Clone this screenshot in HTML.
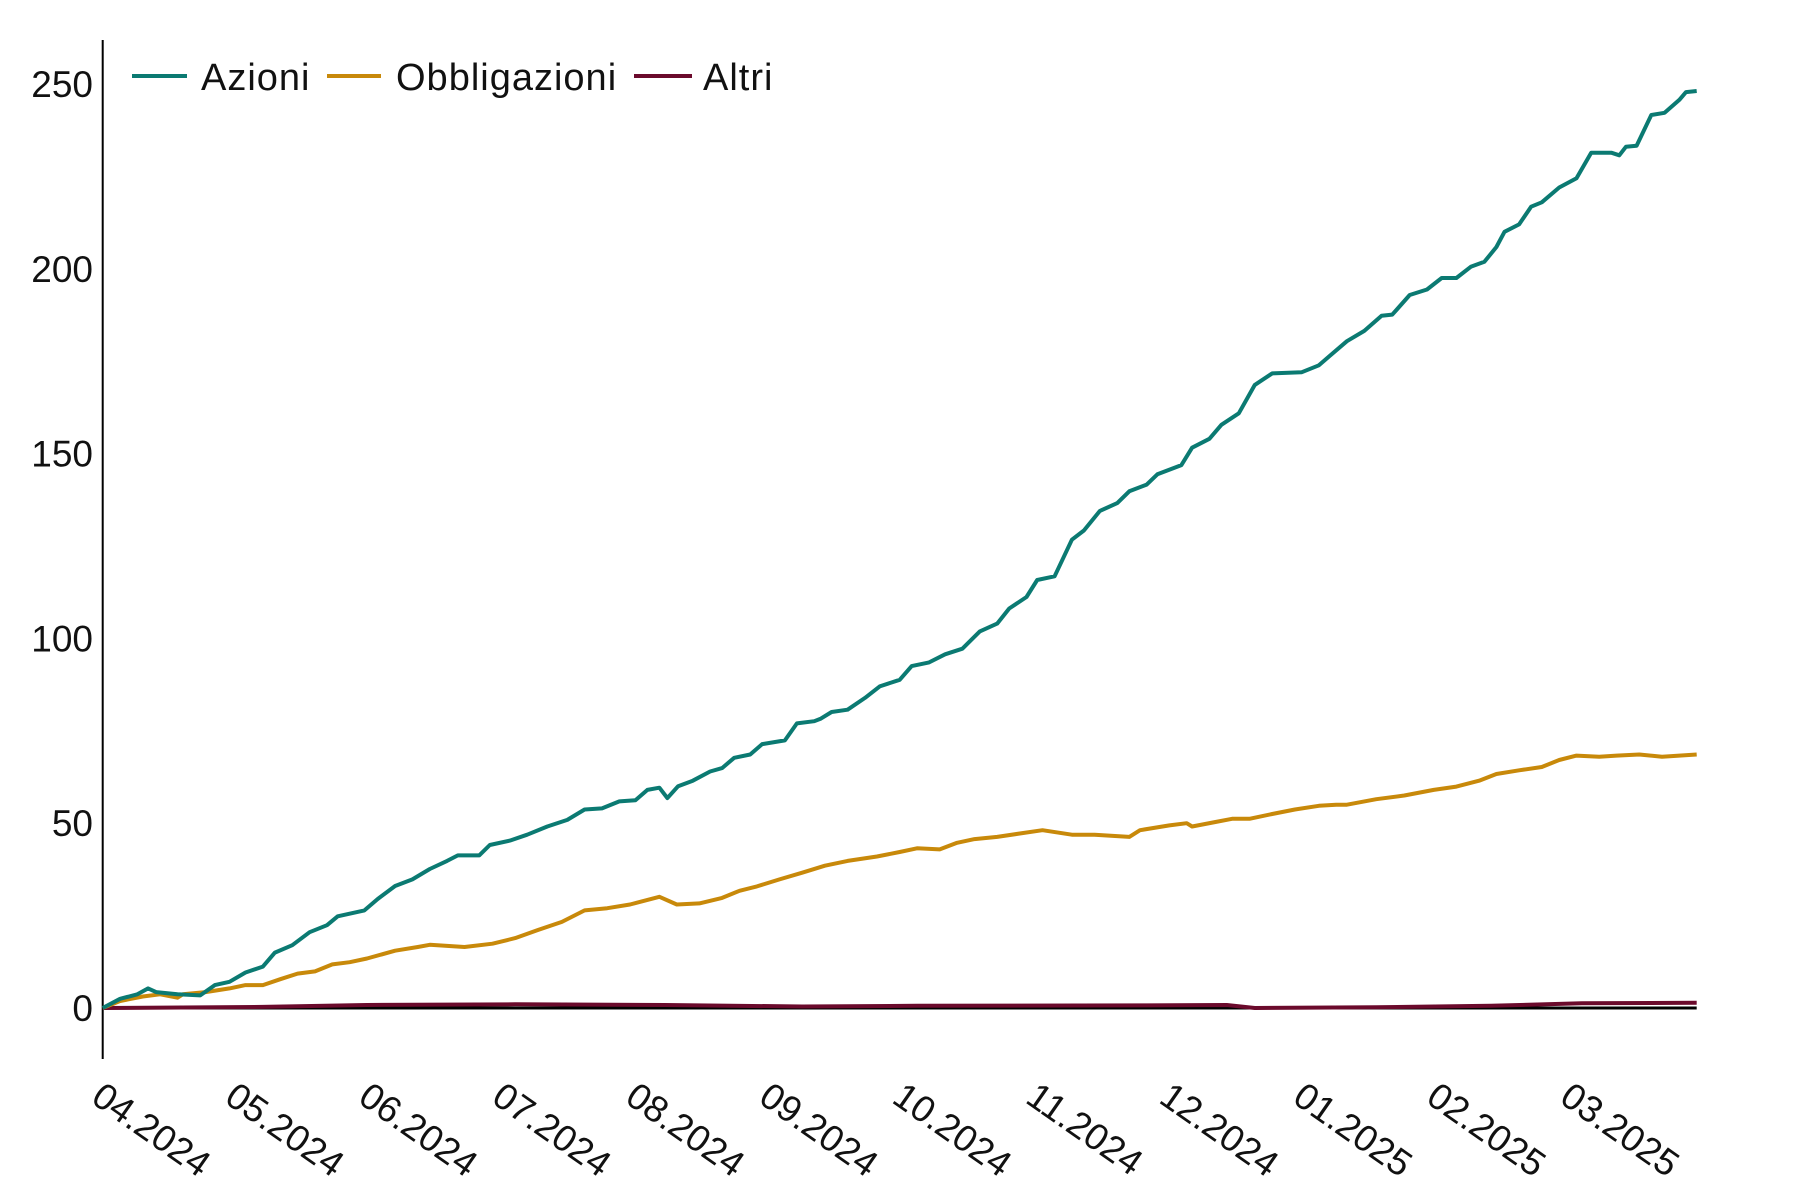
<!DOCTYPE html>
<html><head><meta charset="utf-8"><style>
html,body{margin:0;padding:0;background:#fff;}
svg{display:block;font-family:"Liberation Sans",sans-serif;}
</style></head><body>
<svg id="chart" width="1800" height="1200" viewBox="0 0 1800 1200">
<g id="legend">
<g><line x1="132" y1="76" x2="187" y2="76" stroke="#0b7a72" stroke-width="4"/><text x="201" y="90" font-size="38" letter-spacing="1" fill="#111">Azioni</text></g>
<g><line x1="327" y1="76" x2="381" y2="76" stroke="#c8890a" stroke-width="4"/><text x="396" y="90" font-size="38" letter-spacing="1" fill="#111">Obbligazioni</text></g>
<g><line x1="634" y1="76" x2="692" y2="76" stroke="#6b0a2c" stroke-width="4"/><text x="703" y="90" font-size="38" letter-spacing="1" fill="#111">Altri</text></g>
</g>
</svg>
<script>
const monthLabels=["04.2024","05.2024","06.2024","07.2024","08.2024","09.2024","10.2024","11.2024","12.2024","01.2025","02.2025","03.2025"];
const yTicks=[0,50,100,150,200,250];
const azioniT=[0,.13,.26,.34,.40,.56,.73,.84,.95,1.07,1.20,1.29,1.42,1.55,1.68,1.76,1.96,2.06,2.19,2.32,2.45,2.58,2.66,2.82,2.90,3.05,3.18,3.33,3.48,3.61,3.74,3.87,3.99,4.08,4.17,4.23,4.31,4.42,4.55,4.64,4.73,4.85,4.94,5.11,5.20,5.33,5.38,5.46,5.58,5.71,5.82,5.97,6.06,6.19,6.31,6.44,6.57,6.70,6.79,6.92,7.00,7.13,7.26,7.35,7.47,7.60,7.69,7.82,7.90,8.08,8.16,8.29,8.38,8.51,8.63,8.76,8.98,9.11,9.19,9.32,9.45,9.58,9.66,9.79,9.92,10.03,10.14,10.25,10.35,10.44,10.50,10.61,10.70,10.78,10.91,11.04,11.15,11.30,11.36,11.41,11.49,11.60,11.70,11.81,11.86,11.94];
const azioniV=[0,2.5,3.7,5.3,4.3,3.7,3.4,6.2,7.1,9.6,11.2,15,17,20.5,22.4,24.8,26.4,29.5,33,34.8,37.6,39.8,41.3,41.3,44.1,45.3,46.9,49.1,50.9,53.7,54,55.9,56.2,59,59.6,56.8,60,61.5,64,64.9,67.7,68.6,71.4,72.4,77,77.6,78.3,80.1,80.7,83.9,87,88.8,92.5,93.5,95.7,97.2,101.9,104,108.1,111.2,115.8,116.8,126.7,129.2,134.5,136.6,139.8,141.6,144.4,146.9,151.6,154,157.8,160.9,168.6,171.7,172,173.9,176.4,180.4,183.2,187.3,187.6,192.9,194.4,197.5,197.5,200.6,201.9,205.9,210,212,216.8,218,222,224.5,231.4,231.4,230.7,233,233.3,241.6,242.2,245.7,247.8,248.1];
const obbligT=[0,.13,.30,.43,.56,.60,.77,.95,1.07,1.20,1.33,1.46,1.59,1.72,1.85,1.98,2.19,2.36,2.45,2.71,2.92,3.09,3.26,3.44,3.61,3.78,3.95,4.17,4.30,4.47,4.64,4.77,4.90,5.07,5.24,5.41,5.58,5.80,5.97,6.10,6.27,6.40,6.53,6.70,6.87,7.04,7.26,7.43,7.69,7.77,7.99,8.12,8.16,8.33,8.46,8.59,8.76,8.93,9.11,9.24,9.32,9.54,9.75,9.97,10.14,10.31,10.44,10.61,10.78,10.91,11.04,11.21,11.34,11.51,11.68,11.81,11.94];
const obbligV=[0,1.9,3.1,3.7,2.8,3.7,4.3,5.3,6.2,6.2,7.8,9.3,9.9,11.8,12.4,13.4,15.5,16.5,17.1,16.5,17.4,18.9,21.1,23.3,26.4,27,28,30.1,28,28.3,29.8,31.7,32.9,34.8,36.6,38.5,39.8,41,42.2,43.2,42.9,44.7,45.7,46.3,47.2,48.1,46.9,46.9,46.3,48.1,49.4,50,49.1,50.3,51.2,51.2,52.5,53.7,54.7,55,55,56.5,57.5,59,59.9,61.5,63.3,64.3,65.2,67.1,68.3,68,68.3,68.6,68,68.3,68.6];
const altriT=[0,1.20,1.98,3.09,4.21,5.24,6.10,7.82,8.42,8.63,9.54,10.40,11.08,11.94];
const altriV=[0,.3,.8,1,.8,.4,.6,.7,.8,0,.2,.6,1.3,1.4];

const NS="http://www.w3.org/2000/svg";
const svg=document.getElementById('chart');
const X0=102.7,MONTH=133.5,Y0=1008,PXU=3.696;
const xs=t=>X0+t*MONTH, ys=v=>Y0-v*PXU;
function mk(tag,attrs){const e=document.createElementNS(NS,tag);for(const k in attrs)e.setAttribute(k,attrs[k]);return e;}

const axis=mk('line',{x1:X0,y1:40,x2:X0,y2:1059,stroke:'#000','stroke-width':2});


svg.appendChild(axis);
yTicks.forEach(v=>{
  const t=mk('text',{x:93,y:ys(v)+13,'text-anchor':'end','font-size':37,fill:'#111'});
  t.textContent=v;
  
  
  svg.appendChild(t);
});
monthLabels.forEach((m,i)=>{
  const x=xs(i)+2,y=1080;
  const t=mk('text',{x:x,y:y,'font-size':37,fill:'#111','dominant-baseline':'hanging',transform:`rotate(35 ${x} ${y})`});
  t.textContent=m;
  
  
  svg.appendChild(t);
});
const base=mk('line',{x1:X0,y1:Y0,x2:xs(11.94),y2:Y0,stroke:'#000','stroke-width':3});


svg.appendChild(base);
function series(T,V,color,name){
  const d=T.map((t,i)=>(i?'L':'M')+xs(t).toFixed(1)+' '+ys(V[i]).toFixed(1)).join(' ');
  const p=mk('path',{d:d,fill:'none',stroke:color,'stroke-width':4,'stroke-linejoin':'round'});
  
  
  svg.appendChild(p);
}
series(altriT,altriV,'#6b0a2c','altri-line');
series(obbligT,obbligV,'#c8890a','obbligazioni-line');
series(azioniT,azioniV,'#0b7a72','azioni-line');
</script>
</body></html>
